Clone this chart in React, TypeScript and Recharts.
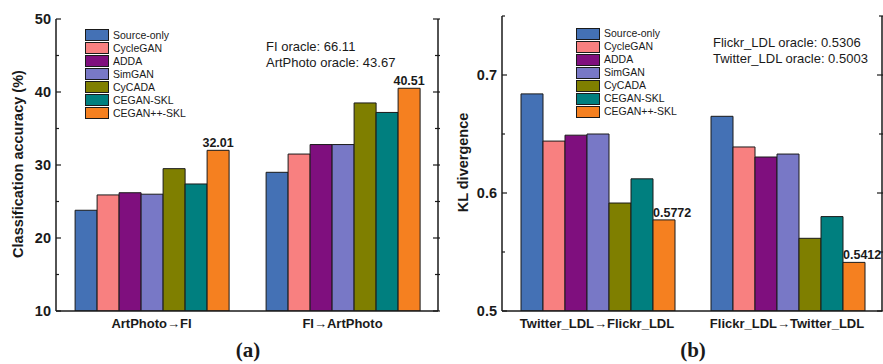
import React from "react";
import { BarChart, Bar, XAxis, YAxis, Legend, LabelList } from "recharts";

const METODOS = ["Source-only", "CycleGAN", "ADDA", "SimGAN", "CyCADA", "CEGAN-SKL", "CEGAN++-SKL"];
const CORES = ["#4471B5", "#F88080", "#7F0F7E", "#7878C6", "#7F7F00", "#007F7F", "#F58020"];

// (a) acurácia de classificação
const catsAcc = ["ArtPhoto→FI", "FI→ArtPhoto"];
const accArtPhotoParaFI = [23.8, 25.9, 26.2, 26.0, 29.5, 27.4, 32.01];
const accFIParaArtPhoto = [29.0, 31.5, 32.8, 32.8, 38.5, 37.2, 40.51];
const ticksAcc = [10, 15, 20, 25, 30, 35, 40, 45, 50];
const ticksAccRotulo = [10, 20, 30, 40, 50];
const oracleAcc = ["FI oracle: 66.11", "ArtPhoto oracle: 43.67"];

// (b) divergência KL
const catsKL = ["Twitter_LDL→Flickr_LDL", "Flickr_LDL→Twitter_LDL"];
const klTwitterParaFlickr = [0.684, 0.644, 0.649, 0.650, 0.5915, 0.612, 0.5772];
const klFlickrParaTwitter = [0.665, 0.639, 0.6305, 0.633, 0.5616, 0.580, 0.5412];
const ticksKL = [0.5, 0.55, 0.6, 0.65, 0.7, 0.75];
const ticksKLRotulo = [0.5, 0.6, 0.7];
const oracleKL = ["Flickr_LDL oracle: 0.5306", "Twitter_LDL oracle: 0.5003"];

const FONTE = '"Liberation Sans", Arial, sans-serif';
const TINTA = "#1a1a1a";

function montaLinhas(cats: string[], grupos: number[][]) {
  return cats.map((cat, c) => {
    const linha: Record<string, string | number> = { cat };
    grupos[c].forEach((v, i) => (linha[`s${i}`] = v));
    return linha;
  });
}

const ehRotulo = (v: number, lista: number[]) => lista.some((t) => Math.abs(t - v) < 1e-9);

function TickEsq({ x, y, payload, rotulos, casas }: any) {
  const v = payload.value as number;
  const maior = ehRotulo(v, rotulos);
  return (
    <g>
      <line x1={x} x2={x + (maior ? 5 : 3)} y1={y} y2={y} stroke={TINTA} strokeWidth={1.2} />
      {maior && (
        <text x={x - 5} y={y} dy="0.36em" textAnchor="end" fontSize={14.5} fontWeight="bold" fill={TINTA} fontFamily={FONTE}>
          {v.toFixed(casas)}
        </text>
      )}
    </g>
  );
}

function TickDir({ x, y, payload, rotulos }: any) {
  const maior = ehRotulo(payload.value, rotulos);
  return <line x1={x - (maior ? 5 : 3)} x2={x + 2} y1={y} y2={y} stroke={TINTA} strokeWidth={1.2} />;
}

function TickX({ x, y, payload }: any) {
  return (
    <text x={x} y={y + 17} textAnchor="middle" fontSize={13} fontWeight="bold" fill={TINTA} fontFamily={FONTE}>
      {payload.value}
    </text>
  );
}

function TituloY({ viewBox, texto, cx }: any) {
  const cy = viewBox ? viewBox.y + viewBox.height / 2 - 1 : 164;
  return (
    <text
      x={cx}
      y={cy}
      transform={`rotate(-90 ${cx} ${cy})`}
      textAnchor="middle"
      dominantBaseline="central"
      fontSize={14.5}
      fontWeight="bold"
      fill={TINTA}
      fontFamily={FONTE}
    >
      {texto}
    </text>
  );
}

// legenda na ordem das séries (o Legend do recharts 3 ordena por nome)
function LegendaBarras() {
  return (
    <div style={{ display: "flex", flexDirection: "column", fontFamily: FONTE }}>
      {METODOS.map((nome, i) => (
        <div key={nome} style={{ display: "flex", alignItems: "center", height: 13 }}>
          <span style={{ width: 22, height: 10, border: `1px solid ${TINTA}`, background: CORES[i] }} />
          <span style={{ marginLeft: 4, fontSize: 10.5, lineHeight: "13px", color: TINTA, whiteSpace: "nowrap" }}>
            {nome}
          </span>
        </div>
      ))}
    </div>
  );
}

type PainelProps = {
  esquerda: number;
  largura: number;
  dados: Record<string, string | number>[];
  dominio: [number, number];
  ticks: number[];
  rotulos: number[];
  casas: number;
  casasValor: number;
  centrado: boolean;
  larguraEixo: number;
  topo: number;
  titulo: string;
  tituloX: number;
  legenda: { left: number; top: number };
  oracle: string[];
  oraclePos: { left: number; top: number };
  legendaFig: string;
  legendaFigX: number;
};

function Painel(p: PainelProps) {
  const rotuloValor = (props: any) => {
    const { x, y, width, value } = props;
    const tx = p.centrado ? x + width / 2 : x;
    return (
      <text x={tx} y={y - 3} textAnchor={p.centrado ? "middle" : "start"} fontSize={12.5} fontWeight="bold" fill={TINTA} fontFamily={FONTE}>
        {Number(value).toFixed(p.casasValor)}
      </text>
    );
  };
  return (
    <div style={{ position: "absolute", left: p.esquerda, top: 0, width: p.largura, height: 364 }}>
      <BarChart
        width={p.largura}
        height={364}
        data={p.dados}
        margin={{ top: p.topo, right: p.esquerda === 0 ? 1 : 0, left: 0, bottom: 23 }}
        barCategoryGap="10%"
        barGap={0}
      >
        <XAxis dataKey="cat" height={30} tick={<TickX />} tickLine={false} tickSize={0} tickMargin={0} axisLine={{ stroke: TINTA, strokeWidth: 1.5 }} interval={0} />
        <XAxis xAxisId="topo" dataKey="cat" orientation="top" height={0} tick={false} tickLine={false} axisLine={{ stroke: TINTA, strokeWidth: 1.5 }} />
        <YAxis
          domain={p.dominio}
          ticks={p.ticks}
          allowDataOverflow
          width={p.larguraEixo}
          tickLine={false}
          tickSize={0}
          tickMargin={0}
          axisLine={{ stroke: TINTA, strokeWidth: 1.5 }}
          tick={<TickEsq rotulos={p.rotulos} casas={p.casas} />}
          interval={0}
          label={<TituloY texto={p.titulo} cx={p.tituloX} />}
        />
        <YAxis
          yAxisId="dir"
          orientation="right"
          domain={p.dominio}
          ticks={p.ticks}
          allowDataOverflow
          width={1}
          tickLine={false}
          tickSize={0}
          tickMargin={0}
          axisLine={{ stroke: TINTA, strokeWidth: 1.5 }}
          tick={<TickDir rotulos={p.rotulos} />}
          interval={0}
        />
        <Legend
          layout="vertical"
          align="center"
          verticalAlign="middle"
          content={<LegendaBarras />}
          wrapperStyle={{ left: p.legenda.left, top: p.legenda.top, width: "auto", height: "auto" }}
        />
        {METODOS.map((nome, i) => (
          <Bar key={nome} dataKey={`s${i}`} name={nome} fill={CORES[i]} stroke={TINTA} strokeWidth={1} isAnimationActive={false}>
            {i === METODOS.length - 1 && <LabelList dataKey={`s${i}`} content={rotuloValor} />}
          </Bar>
        ))}
      </BarChart>
      <div
        style={{
          position: "absolute",
          left: p.oraclePos.left,
          top: p.oraclePos.top,
          fontFamily: FONTE,
          fontSize: 13,
          lineHeight: "15.6px",
          color: TINTA,
          whiteSpace: "nowrap",
        }}
      >
        {p.oracle.map((t) => (
          <div key={t}>{t}</div>
        ))}
      </div>
      <div
        style={{
          position: "absolute",
          left: p.legendaFigX - 40,
          width: 80,
          top: 337,
          textAlign: "center",
          fontFamily: '"Liberation Serif", "Times New Roman", serif',
          fontWeight: "bold",
          fontSize: 21,
          lineHeight: "26px",
          color: TINTA,
        }}
      >
        {p.legendaFig}
      </div>
    </div>
  );
}

export default function App() {
  const dadosAcc = montaLinhas(catsAcc, [accArtPhotoParaFI, accFIParaArtPhoto]);
  const dadosKL = montaLinhas(catsKL, [klTwitterParaFlickr, klFlickrParaTwitter]);
  return (
    <div style={{ position: "absolute", left: 0, top: 0, width: 883, height: 364, background: "#fff", overflow: "hidden" }}>
      <Painel
        esquerda={0}
        largura={440}
        dados={dadosAcc}
        dominio={[10, 50]}
        ticks={ticksAcc}
        rotulos={ticksAccRotulo}
        casas={0}
        casasValor={2}
        centrado
        larguraEixo={56}
        topo={19}
        titulo="Classification accuracy (%)"
        tituloX={18}
        legenda={{ left: 85, top: 28.5 }}
        oracle={oracleAcc}
        oraclePos={{ left: 266, top: 39 }}
        legendaFig="(a)"
        legendaFigX={248}
      />
      <Painel
        esquerda={440}
        largura={443}
        dados={dadosKL}
        dominio={[0.5, 0.75]}
        ticks={ticksKL}
        rotulos={ticksKLRotulo}
        casas={1}
        casasValor={4}
        centrado={false}
        larguraEixo={62}
        topo={16}
        titulo="KL divergence"
        tituloX={23}
        legenda={{ left: 136, top: 27.2 }}
        oracle={oracleKL}
        oraclePos={{ left: 273, top: 35 }}
        legendaFig="(b)"
        legendaFigX={253}
      />
    </div>
  );
}
